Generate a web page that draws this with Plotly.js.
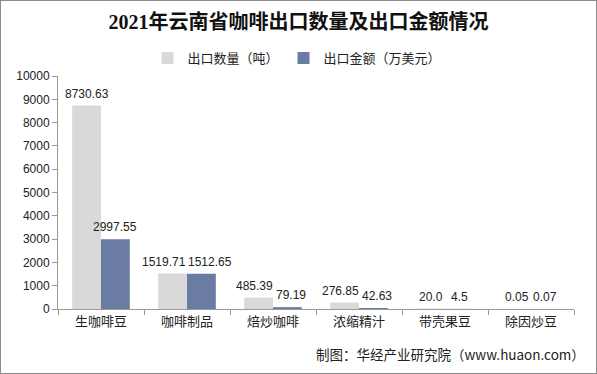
<!DOCTYPE html>
<html><head><meta charset="utf-8">
<script src="https://cdn.plot.ly/plotly-3.0.1.min.js"></script>
<style>
html,body{margin:0;padding:0;background:#fff;}
#wrap{position:relative;width:597px;height:374px;}
#chart{position:absolute;left:0;top:0;width:597px;height:374px;}
#border{position:absolute;left:0;top:0;width:595px;height:372px;border:1px solid #8c8c8c;pointer-events:none;}
</style></head>
<body>
<div id="wrap"><div id="chart"></div><div id="border"></div></div>
<script>
const categories = ['生咖啡豆','咖啡制品','焙炒咖啡','浓缩精汁','带壳果豆','除因炒豆'];
const quantity = [8730.63, 1519.71, 485.39, 276.85, 20.0, 0.05];
const quantityLabels = ['8730.63','1519.71','485.39','276.85','20.0','0.05'];
const amount = [2997.55, 1512.65, 79.19, 42.63, 4.5, 0.07];
const amountLabels = ['2997.55','1512.65','79.19','42.63','4.5','0.07'];
const yTicks = [0,1000,2000,3000,4000,5000,6000,7000,8000,9000,10000];
const seriesNames = ['出口数量（吨）','出口金额（万美元）'];
const seriesColors = ['#d9d9d9','#6a7ca3'];

const font = 'Arial, "Liberation Sans", "Noto Sans CJK SC", sans-serif';
const W = 597, H = 374, M = {l:58, r:23, t:76, b:65};
const bargap = 0.33;
const yMax = 10000;
const plotW = W - M.l - M.r, plotH = H - M.t - M.b;
const catW = plotW / categories.length;
const barOff = catW * (1 - bargap) / 4;
const labelSize = 12;

// measure label widths to keep neighbouring labels apart (as the original does)
const ctx = document.createElement('canvas').getContext('2d');
ctx.font = labelSize + 'px Arial';
function tw(s){ return ctx.measureText(s).width; }
function topPx(v){ return plotH * (1 - v / yMax); }

const annotations = [];
categories.forEach((c, i) => {
  const w1 = tw(quantityLabels[i]), w2 = tw(amountLabels[i]);
  const h = labelSize + 2, pad = 3;
  const b1 = topPx(quantity[i]) - pad, b2 = topPx(amount[i]) - pad;
  let s1 = -barOff, s2 = barOff;
  const vOverlap = !(b1 <= b2 - h || b2 <= b1 - h);
  const right1 = s1 + w1 / 2, left2 = s2 - w2 / 2;
  if (vOverlap && right1 + 3 > left2) {
    const d = right1 + 3 - left2;
    s1 -= d / 2; s2 += d / 2;
  }
  annotations.push({x:c, y:quantity[i], xref:'x', yref:'y', text:quantityLabels[i], showarrow:false,
    xshift:s1, yshift:pad, yanchor:'bottom', xanchor:'center', font:{family:font, size:labelSize, color:'#222'}});
  annotations.push({x:c, y:amount[i], xref:'x', yref:'y', text:amountLabels[i], showarrow:false,
    xshift:s2, yshift:pad, yanchor:'bottom', xanchor:'center', font:{family:font, size:labelSize, color:'#222'}});
});
annotations.push({text:'制图：华经产业研究院（www.huaon.com）', xref:'paper', yref:'paper', x:(587 - M.l)/plotW, xanchor:'right',
  y:-(354 - M.t - plotH)/plotH, yanchor:'middle', showarrow:false,
  font:{family:'"Noto Sans CJK SC", sans-serif', size:13.5, color:'#222'}});

const data = [
  {type:'bar', name:seriesNames[0], x:categories, y:quantity, marker:{color:seriesColors[0]}},
  {type:'bar', name:seriesNames[1], x:categories, y:amount, marker:{color:seriesColors[1]}}
];
const layout = {
  width:W, height:H,
  margin:M,
  paper_bgcolor:'#fff', plot_bgcolor:'#fff',
  barmode:'group', bargap:bargap, bargroupgap:0,
  font:{family:font, size:12, color:'#222'},
  title:{text:'<b>2021年云南省咖啡出口数量及出口金额情况</b>', x:0.5, xanchor:'center', y:0.94, yanchor:'middle',
    font:{family:'"Liberation Serif", "Noto Sans CJK SC", serif', size:20, color:'#111'}},
  showlegend:true,
  legend:{orientation:'h', x:(297 - M.l)/plotW, xanchor:'center', y:1 + (M.t - 58)/plotH, yanchor:'middle',
    font:{family:'"Noto Sans CJK SC", sans-serif', size:13, color:'#222'}, itemwidth:30, traceorder:'normal'},
  xaxis:{type:'category', showline:true, linecolor:'#999', linewidth:1, ticks:'outside', tickson:'boundaries',
    ticklen:5, tickcolor:'#999', showgrid:false, tickfont:{family:'"Noto Sans CJK SC", sans-serif', size:13, color:'#222'}},
  yaxis:{range:[0,yMax], tickvals:yTicks, ticktext:yTicks.map(String), showline:true, linecolor:'#999', linewidth:1,
    ticks:'outside', ticklen:5, tickcolor:'#999', showgrid:false, zeroline:false,
    tickfont:{family:font, size:12, color:'#222'}},
  annotations:annotations
};
Plotly.newPlot('chart', data, layout, {displayModeBar:false, staticPlot:true});
</script>
</body></html>
